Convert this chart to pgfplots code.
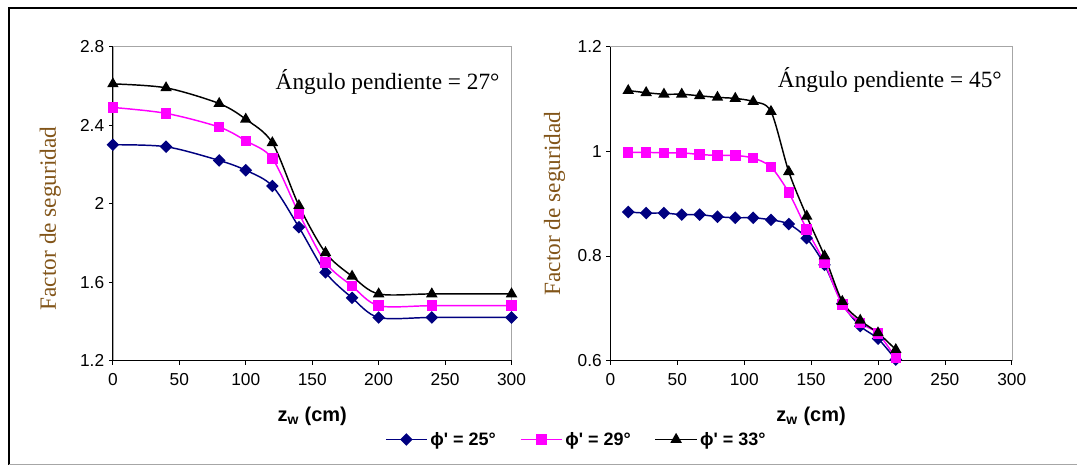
\documentclass[border=0pt]{standalone}
\usepackage{fontspec}
\setmainfont{Liberation Sans}
\newfontfamily\tnr{Liberation Serif}
\usepackage{pgfplots}
\pgfplotsset{compat=1.18}
\definecolor{navyb}{RGB}{0,0,128}
\definecolor{mag}{RGB}{255,0,255}
\definecolor{ylab}{RGB}{130,85,25}

\pgfplotsset{
 myax/.style={
  scale only axis, height=235.75pt,
  xmin=0,xmax=300, xtick={0,50,...,300},
  axis line style={draw=gray!70},
  tick align=outside, tick style={black, line width=0.6pt}, major tick length=3pt,
  xtick pos=bottom, ytick pos=left,
  tick label style={font=\fontsize{13}{15}\selectfont},
  xticklabel style={yshift=-3pt},
  /pgf/number format/assume math mode=true,
  every axis x label/.style={at={(axis description cs:0.5,0)}, anchor=center, yshift=-42pt, font=\bfseries\fontsize{15}{18}\selectfont},
  clip=false,
  legend image code/.code={\draw[mark repeat=2,mark phase=2,#1] plot coordinates {(0pt,0pt) (15.5pt,0pt) (31pt,0pt)};},
 },
 s1/.style={color=navyb, line width=1.1pt, mark=square*, mark options={rotate=45, solid, fill=navyb}, mark size=2.8pt, smooth, tension=0.5},
 s2/.style={color=mag, line width=1.1pt, mark=square*, mark options={solid, fill=mag}, mark size=3.4pt, smooth, tension=0.5},
 s3/.style={color=black, line width=1.1pt, mark=triangle*, mark options={solid, fill=black}, mark size=3.9pt, smooth, tension=0.5},
}

\begin{document}
\begin{tikzpicture}
\path (0,0) rectangle (808.5pt,349.5pt);
\draw[black, line width=1.5pt] (6.75pt,0.75pt) -- (6.75pt,343.5pt) -- (808.5pt,343.5pt);
\draw[gray!70, line width=1pt] (6.75pt,0.75pt) -- (808.5pt,0.75pt);

\begin{axis}[myax, at={(84.75pt,78.75pt)}, anchor=south west, width=299.25pt,
  ymin=1.2, ymax=2.8, ytick={1.2,1.6,2,2.4,2.8},
  ylabel={Factor de seguridad}, xlabel={z$_{\mathbf{w}}$ (cm)},
  every axis y label/.style={at={(axis description cs:-0.157,0.453)}, rotate=90, anchor=center, font=\tnr\fontsize{17.5}{20}\selectfont, text=ylab},
  legend columns=3,
  legend style={at={(rel axis cs:0.682,-0.251)}, anchor=west, draw=none, fill=none, inner sep=0pt,
    font=\bfseries\fontsize{13.5}{16}\selectfont,
    /tikz/every even column/.append style={column sep=16pt},
    nodes={inner xsep=2pt}},
]
\draw[black, line width=0.8pt] (rel axis cs:0,1) -- (rel axis cs:0,0) -- (rel axis cs:1,0);
\addplot[s1] coordinates {(0,2.30) (40,2.29) (80,2.22) (100,2.17) (120,2.09) (140,1.88) (160,1.65) (180,1.52) (200,1.42) (240,1.42) (300,1.42)};
\addlegendentry{ϕ\textquotesingle{} = 25°}
\addplot[s2] coordinates {(0,2.49) (40,2.46) (80,2.39) (100,2.32) (120,2.23) (140,1.95) (160,1.70) (180,1.58) (200,1.48) (240,1.48) (300,1.48)};
\addlegendentry{ϕ\textquotesingle{} = 29°}
\addplot[s3] coordinates {(0,2.61) (40,2.59) (80,2.51) (100,2.43) (120,2.31) (140,1.99) (160,1.75) (180,1.63) (200,1.54) (240,1.54) (300,1.54)};
\addlegendentry{ϕ\textquotesingle{} = 33°}
\end{axis}

\begin{axis}[myax, at={(458.25pt,78.75pt)}, anchor=south west, width=301.3pt,
  ymin=0.6, ymax=1.2, ytick={0.6,0.8,1,1.2},
  ylabel={Factor de seguridad}, xlabel={z$_{\mathbf{w}}$ (cm)},
  every axis y label/.style={at={(axis description cs:-0.139,0.5)}, rotate=90, anchor=center, font=\tnr\fontsize{17.5}{20}\selectfont, text=ylab},
]
\draw[black, line width=0.8pt] (rel axis cs:0,1) -- (rel axis cs:0,0) -- (rel axis cs:1,0);
\addplot[s1] coordinates {(13.3,0.884) (26.7,0.882) (40,0.882) (53.3,0.879) (66.7,0.879) (80,0.875) (93.3,0.873) (106.7,0.873) (120,0.869) (133.3,0.861) (146.7,0.834) (160,0.783) (173.3,0.709) (186.7,0.666) (200,0.642) (213.3,0.602)};
\addplot[s2] coordinates {(13.3,0.998) (26.7,0.998) (40,0.997) (53.3,0.997) (66.7,0.994) (80,0.992) (93.3,0.992) (106.7,0.987) (120,0.970) (133.3,0.921) (146.7,0.851) (160,0.787) (173.3,0.707) (186.7,0.672) (200,0.652) (213.3,0.605)};
\addplot[s3] coordinates {(13.3,1.116) (26.7,1.112) (40,1.109) (53.3,1.109) (66.7,1.106) (80,1.103) (93.3,1.101) (106.7,1.095) (120,1.076) (133.3,0.961) (146.7,0.876) (160,0.800) (173.3,0.713) (186.7,0.677) (200,0.653) (213.3,0.621)};
\end{axis}

\node[font=\tnr\fontsize{17.5}{20}\selectfont, anchor=center] at (291pt,288pt) {Ángulo pendiente = 27°};
\node[font=\tnr\fontsize{17.5}{20}\selectfont, anchor=center] at (668pt,289.5pt) {Ángulo pendiente = 45°};
\end{tikzpicture}
\end{document}
